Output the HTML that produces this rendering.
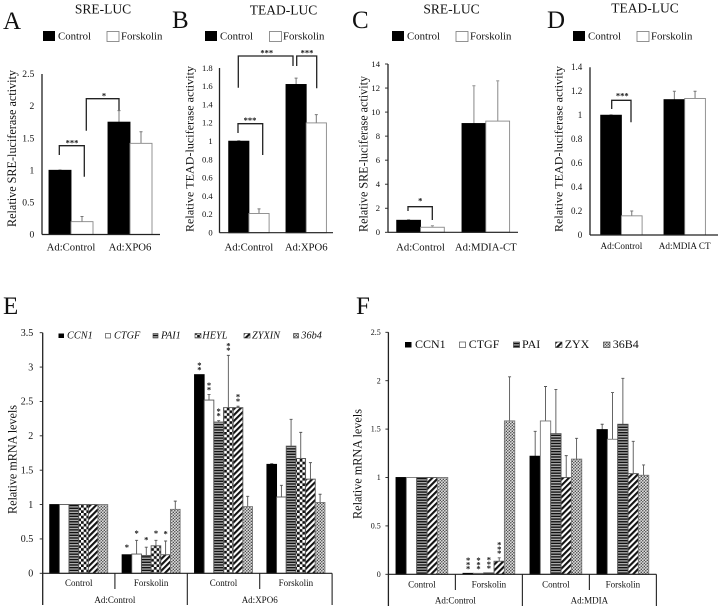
<!DOCTYPE html>
<html lang="en">
<head>
<meta charset="utf-8">
<title>Luciferase and mRNA bar charts</title>
<style>
html,body{margin:0;padding:0;background:#fff;width:718px;height:609px;overflow:hidden}
svg{display:block;filter:blur(0.35px)}
text{font-family:"Liberation Serif",serif;fill:#111}
</style>
</head>
<body>
<svg id="fig" xmlns="http://www.w3.org/2000/svg" width="718" height="609" viewBox="0 0 718 609">
<defs>
<pattern id="p-stripe" width="4" height="2.7" patternUnits="userSpaceOnUse"><rect width="4" height="2.7" fill="#aaa"/><rect width="4" height="1.35" fill="#111"/></pattern>
<pattern id="p-check" width="5.4" height="5.4" patternUnits="userSpaceOnUse"><rect width="5.4" height="5.4" fill="#111"/><rect width="2.7" height="2.7" fill="#fff"/><rect x="2.7" y="2.7" width="2.7" height="2.7" fill="#fff"/></pattern>
<pattern id="p-diag" width="4.2" height="4.2" patternUnits="userSpaceOnUse" patternTransform="rotate(45)"><rect width="4.2" height="4.2" fill="#fff"/><rect width="2.1" height="4.2" fill="#111"/></pattern>
<pattern id="p-dots" width="3" height="3" patternUnits="userSpaceOnUse"><rect width="3" height="3" fill="#ddd"/><circle cx="0.8" cy="0.8" r="0.75" fill="#444"/><circle cx="2.3" cy="2.3" r="0.75" fill="#444"/></pattern>
</defs>

<g font-size="25">
<text x="3" y="29">A</text>
<text x="172" y="28">B</text>
<text x="352" y="28">C</text>
<text x="547" y="28">D</text>
<text x="3" y="314">E</text>
<text x="356" y="314">F</text>
</g>

<g font-size="13.5" text-anchor="middle">
<text x="103" y="13.5">SRE-LUC</text>
<text x="283.5" y="14.5">TEAD-LUC</text>
<text x="451.5" y="13.5">SRE-LUC</text>
<text x="645" y="12.5">TEAD-LUC</text>
</g>

<g text-anchor="middle">
<text font-size="12.2" transform="translate(16,148.5) rotate(-90)" textLength="157">Relative SRE-luciferase activity</text>
<text font-size="12" transform="translate(193.3,149) rotate(-90)" textLength="166">Relative TEAD-luciferase  activity</text>
<text font-size="12.1" transform="translate(367.3,154) rotate(-90)" textLength="156">Relative SRE-luciferase activity</text>
<text font-size="12" transform="translate(562.7,149) rotate(-90)" textLength="166">Relative TEAD-luciferase  activity</text>
<text font-size="12.3" transform="translate(16.5,459.5) rotate(-90)" textLength="109">Relative mRNA levels</text>
<text font-size="12.3" transform="translate(361.3,464) rotate(-90)" textLength="110">Relative mRNA levels</text>
</g>

<g font-size="10.8">
<rect x="43" y="31" width="12" height="10" fill="#000"/>
<text x="58" y="39.5">Control</text>
<rect x="107" y="31.5" width="12" height="10" fill="#fff" stroke="#777" stroke-width="0.8"/>
<text x="121" y="39.5">Forskolin</text>
</g>
<g font-size="10.8">
<rect x="205" y="31" width="12" height="10" fill="#000"/>
<text x="220" y="39.5">Control</text>
<rect x="269.5" y="31.5" width="12" height="10" fill="#fff" stroke="#777" stroke-width="0.8"/>
<text x="283" y="39.5">Forskolin</text>
</g>
<g font-size="10.8">
<rect x="392" y="31" width="12" height="10" fill="#000"/>
<text x="407" y="39.5">Control</text>
<rect x="456" y="31.5" width="12" height="10" fill="#fff" stroke="#777" stroke-width="0.8"/>
<text x="470" y="39.5">Forskolin</text>
</g>
<g font-size="10.8">
<rect x="573" y="31" width="12" height="10" fill="#000"/>
<text x="588" y="39.5">Control</text>
<rect x="637" y="31.5" width="12" height="10" fill="#fff" stroke="#777" stroke-width="0.8"/>
<text x="651" y="39.5">Forskolin</text>
</g>

<g font-size="10.3" font-style="italic">
<rect x="58.5" y="333.5" width="5.5" height="4.5" fill="#000"/>
<text x="67" y="338.5">CCN1</text>
<rect x="105.5" y="333.5" width="5" height="4.5" fill="#fff" stroke="#333" stroke-width="0.6"/>
<text x="114" y="338.5">CTGF</text>
<rect x="153" y="333.5" width="5" height="4.5" fill="url(#p-stripe)" stroke="#333" stroke-width="0.6"/>
<text x="161" y="338.5">PAI1</text>
<rect x="195" y="333.5" width="6" height="4.5" fill="url(#p-check)" stroke="#333" stroke-width="0.6"/>
<text x="202.3" y="338.5">HEYL</text>
<rect x="244" y="333.5" width="6" height="4.5" fill="url(#p-diag)" stroke="#333" stroke-width="0.6"/>
<text x="252" y="338.5">ZYXIN</text>
<rect x="293.5" y="333.5" width="5" height="4.5" fill="url(#p-dots)" stroke="#333" stroke-width="0.6"/>
<text x="301.3" y="338.5">36b4</text>
</g>
<g font-size="12">
<rect x="405" y="342" width="6.5" height="5.5" fill="#000"/>
<text x="415" y="348">CCN1</text>
<rect x="459.5" y="342" width="6" height="5.5" fill="#fff" stroke="#333" stroke-width="0.6"/>
<text x="468.7" y="348">CTGF</text>
<rect x="513.5" y="342" width="6" height="5.5" fill="url(#p-stripe)" stroke="#333" stroke-width="0.6"/>
<text x="522" y="348">PAI</text>
<rect x="555.5" y="342" width="6.5" height="5.5" fill="url(#p-diag)" stroke="#333" stroke-width="0.6"/>
<text x="564.7" y="348">ZYX</text>
<rect x="603.5" y="342" width="6.5" height="5.5" fill="url(#p-dots)" stroke="#333" stroke-width="0.6"/>
<text x="612.7" y="348">36B4</text>
</g>

<g fill="none" stroke="#222" stroke-width="1.3">
<path d="M59.3 155V145.7H84.3V176.7"/>
<path d="M86.3 130.7V98.7H119V111"/>
<path d="M238.3 87.7V56H293V66"/>
<path d="M296.7 66V56H316.7V88.3"/>
<path d="M238 133V123.7H262.7V155"/>
<path d="M408 211V206.7H432.3V220"/>
<path d="M611.7 109V100.3H631V122.3"/>
</g>
<g font-size="8.5" text-anchor="middle" style="font-weight:bold">
<text x="72" y="145.5">***</text>
<text x="104" y="98.5">*</text>
<text x="266.7" y="55.5">***</text>
<text x="307" y="55.5">***</text>
<text x="250" y="123">***</text>
<text x="420.3" y="203.5">*</text>
<text x="622.3" y="98.5">***</text>
</g>

<g id="charts"></g>
</svg>

<script>
// Panel A
const aCategories = ['Ad:Control', 'Ad:XPO6'];
const aTicks = [0, 0.5, 1, 1.5, 2, 2.5];
const aControl = [1, 1.75];
const aControlErr = [0.004, 0.18];
const aForskolin = [0.2, 1.42];
const aForskolinErr = [0.08, 0.18];
// Panel B
const bCategories = ['Ad:Control', 'Ad:XPO6'];
const bTicks = [0, 0.2, 0.4, 0.6, 0.8, 1, 1.2, 1.4, 1.6, 1.8];
const bControl = [1, 1.62];
const bControlErr = [0.005, 0.07];
const bForskolin = [0.21, 1.2];
const bForskolinErr = [0.05, 0.09];
// Panel C
const cCategories = ['Ad:Control', 'Ad:MDIA-CT'];
const cTicks = [0, 2, 4, 6, 8, 10, 12, 14];
const cControl = [1, 9.05];
const cControlErr = [0.05, 3.15];
const cForskolin = [0.42, 9.25];
const cForskolinErr = [0.13, 3.35];
// Panel D
const dCategories = ['Ad:Control', 'Ad:MDIA CT'];
const dTicks = [0, 0.2, 0.4, 0.6, 0.8, 1, 1.2, 1.4];
const dControl = [1, 1.13];
const dControlErr = [0.003, 0.07];
const dForskolin = [0.16, 1.14];
const dForskolinErr = [0.04, 0.06];
// Panel E
const eTicks = [0, 0.5, 1, 1.5, 2, 2.5, 3, 3.5];
const eConditions = ['Control', 'Forskolin', 'Control', 'Forskolin'];
const eVectors = ['Ad:Control', 'Ad:XPO6'];
const eCCN1 = [1, 0.27, 2.89, 1.585];
const eCCN1Err = [0, 0, 0, 0.01];
const eCCN1Sig = ['', '*', '**', ''];
const eCTGF = [1, 0.28, 2.52, 1.11];
const eCTGFErr = [0, 0.2, 0.08, 0.17];
const eCTGFSig = ['', '*', '**', ''];
const ePAI1 = [1, 0.26, 2.2, 1.85];
const ePAI1Err = [0, 0.12, 0.02, 0.39];
const ePAI1Sig = ['', '*', '**', ''];
const eHEYL = [1, 0.4, 2.41, 1.67];
const eHEYLErr = [0, 0.08, 0.76, 0.38];
const eHEYLSig = ['', '*', '**', ''];
const eZYXIN = [1, 0.27, 2.41, 1.37];
const eZYXINErr = [0, 0.2, 0.02, 0.24];
const eZYXINSig = ['', '*', '**', ''];
const e36b4 = [1, 0.93, 0.97, 1.03];
const e36b4Err = [0, 0.12, 0.15, 0.12];
const e36b4Sig = ['', '', '', ''];
// Panel F
const fTicks = [0, 0.5, 1, 1.5, 2, 2.5];
const fConditions = ['Control', 'Forskolin', 'Control', 'Forskolin'];
const fVectors = ['Ad:Control', 'Ad:MDIA'];
const fCCN1 = [1, 0.01, 1.22, 1.495];
const fCCN1Err = [0, 0, 0.257, 0.055];
const fCCN1Sig = ['', '***', '', ''];
const fCTGF = [1, 0.01, 1.584, 1.395];
const fCTGFErr = [0, 0, 0.356, 0.482];
const fCTGFSig = ['', '***', '', ''];
const fPAI = [1, 0.015, 1.453, 1.55];
const fPAIErr = [0, 0, 0.457, 0.475];
const fPAISig = ['', '***', '', ''];
const fZYX = [1, 0.135, 1, 1.04];
const fZYXErr = [0, 0.035, 0.226, 0.334];
const fZYXSig = ['', '***', '', ''];
const f36B4 = [1, 1.585, 1.19, 1.023];
const f36B4Err = [0, 0.455, 0.215, 0.107];
const f36B4Sig = ['', '', '', ''];

const NS = 'http://www.w3.org/2000/svg';
const root = document.getElementById('charts');

function mk(parent, tag, attrs, text) {
  const el = document.createElementNS(NS, tag);
  for (const k in attrs) el.setAttribute(k, attrs[k]);
  if (text !== undefined) el.textContent = text;
  parent.appendChild(el);
  return el;
}

function drawYAxis(g, yScale, ticks, o) {
  ticks.forEach(function (t) {
    const y = yScale(t);
    const label = mk(g, 'text', { x: o.labelRight, y: y + o.tickFont * 0.32, 'font-size': o.tickFont, 'text-anchor': 'end' }, String(t));
    
    
    if (o.tickMarks) {
      const mark = mk(g, 'line', { x1: o.x0 - 3, x2: o.x0, y1: y, y2: y, stroke: '#222', 'stroke-width': 0.9 });
      
      
    }
  });
  const axis = mk(g, 'line', { x1: o.x0, x2: o.x0, y1: yScale(ticks[ticks.length - 1]), y2: o.axisBottom, stroke: '#222', 'stroke-width': 1.3 });
  
  
}

function drawBar(g, x, w, value, err, fill, stroke, errColor, errWidth, yScale) {
  const top = yScale(value + err);
  if (err > 0) {
    const whisker = mk(g, 'path', { d: 'M' + (x + w / 2) + ' ' + yScale(value) + 'V' + top + 'M' + (x + w / 2 - 1.5) + ' ' + top + 'h3', stroke: errColor, 'stroke-width': errWidth, fill: 'none' });
    
    
  }
  const yTop = yScale(value);
  const bar = mk(g, 'rect', { x: x, y: yTop, width: w, height: yScale(0) - yTop, fill: fill, stroke: stroke, 'stroke-width': 0.9 });
  
  
}

function drawSimple(name, o, categories, ticks, control, controlErr, forskolin, forskolinErr) {
  const g = mk(root, 'g', {});
  
  
  const yScale = function (v) { return o.y0 - (v / ticks[ticks.length - 1]) * (o.y0 - o.yTop); };
  const xBand = function (i) { return o.start + i * o.step; };
  categories.forEach(function (c, i) {
    drawBar(g, xBand(i), o.barW, control[i], controlErr[i], '#000', '#000', o.errColor, o.errWidth, yScale);
    drawBar(g, xBand(i) + o.barW, o.barW, forskolin[i], forskolinErr[i], '#fff', '#888', o.errColor, o.errWidth, yScale);
    const label = mk(g, 'text', { x: xBand(i) + o.barW, y: o.labelY, 'font-size': o.catFont, 'text-anchor': 'middle' }, c);
    
    
  });
  drawYAxis(g, yScale, ticks, { x0: o.x0, labelRight: o.labelRight, tickFont: o.tickFont, tickMarks: o.tickMarks, axisBottom: o.y0 });
  const xAxis = mk(g, 'line', { x1: o.x0, x2: o.x1, y1: o.y0, y2: o.y0, stroke: '#222', 'stroke-width': 1.2 });
  
  
}

function drawMulti(name, o, ticks, conditions, vectors, series) {
  const g = mk(root, 'g', {});
  
  
  const yScale = function (v) { return o.y0 - (v / ticks[ticks.length - 1]) * (o.y0 - o.yTop); };
  const groupW = series.length * o.barW;
  const gap = o.step - groupW;
  const boundary = function (i) { return o.start + i * o.step - gap / 2; };
  series.forEach(function (s, si) {
    s.values.forEach(function (v, gi) {
      const x = o.start + gi * o.step + si * o.barW;
      drawBar(g, x, o.barW, v, s.errs[gi], s.fill, s.stroke, '#555', 0.9, yScale);
      const stars = s.sig[gi];
      for (let k = 0; k < stars.length; k++) {
        const cy = yScale(v + s.errs[gi]) - o.sigGap - (k - (stars.length - 1) / 2) * 4.4;
        const star = mk(g, 'text', { x: x + o.barW / 2, y: cy + 4, 'font-size': 8.5, 'text-anchor': 'middle', 'font-weight': 'bold' }, '*');
        
        
      }
    });
  });
  conditions.forEach(function (c, i) {
    const label = mk(g, 'text', { x: (boundary(i) + boundary(i + 1)) / 2, y: o.condY, 'font-size': 9, 'text-anchor': 'middle' }, c);
    
    
    const tall = (i % 2 === 0);
    if (i > 0) {
      const div = mk(g, 'line', { x1: boundary(i), x2: boundary(i), y1: o.y0, y2: tall ? o.axisBottom : o.midBottom, stroke: '#222', 'stroke-width': 1.1 });
      
      
    }
  });
  const end = mk(g, 'line', { x1: boundary(conditions.length), x2: boundary(conditions.length), y1: o.y0, y2: o.axisBottom, stroke: '#222', 'stroke-width': 1.1 });
  
  
  vectors.forEach(function (c, i) {
    const label = mk(g, 'text', { x: (boundary(i * 2) + boundary(i * 2 + 2)) / 2, y: o.vecY, 'font-size': 9, 'text-anchor': 'middle' }, c);
    
    
  });
  drawYAxis(g, yScale, ticks, { x0: o.x0, labelRight: o.labelRight, tickFont: o.tickFont, tickMarks: true, axisBottom: o.axisBottom });
  const xAxis = mk(g, 'line', { x1: o.x0, x2: boundary(conditions.length), y1: o.y0, y2: o.y0, stroke: '#222', 'stroke-width': 1.2 });
  
  
}

drawSimple('chart-a', { x0: 42, x1: 160, y0: 234.5, yTop: 74, start: 49, step: 59, barW: 22, labelY: 250.5, catFont: 10.7, labelRight: 34.3, tickFont: 9.6, tickMarks: false, errColor: '#777', errWidth: 1 }, aCategories, aTicks, aControl, aControlErr, aForskolin, aForskolinErr);
drawSimple('chart-b', { x0: 219.5, x1: 333, y0: 232.7, yTop: 68, start: 228.7, step: 57.3, barW: 20.2, labelY: 250.5, catFont: 10.7, labelRight: 212.7, tickFont: 8.6, tickMarks: false, errColor: '#777', errWidth: 1 }, bCategories, bTicks, bControl, bControlErr, bForskolin, bForskolinErr);
drawSimple('chart-c', { x0: 388, x1: 518, y0: 232.3, yTop: 64, start: 396.7, step: 65.3, barW: 23.8, labelY: 250.5, catFont: 10.7, labelRight: 380, tickFont: 8.6, tickMarks: true, errColor: '#aaa', errWidth: 1.4 }, cCategories, cTicks, cControl, cControlErr, cForskolin, cForskolinErr);
drawSimple('chart-d', { x0: 590, x1: 718, y0: 235, yTop: 67.3, start: 600.7, step: 63.3, barW: 20.7, labelY: 249, catFont: 9.2, labelRight: 582.3, tickFont: 9, tickMarks: false, errColor: '#777', errWidth: 1 }, dCategories, dTicks, dControl, dControlErr, dForskolin, dForskolinErr);

drawMulti('chart-e', { x0: 42.7, y0: 573.3, yTop: 332.7, start: 49.7, step: 72.4, barW: 9.67, labelRight: 33.3, tickFont: 10, axisBottom: 605, midBottom: 589, condY: 586, vecY: 603, sigGap: 8.5 }, eTicks, eConditions, eVectors, [
  { values: eCCN1, errs: eCCN1Err, sig: eCCN1Sig, fill: '#000', stroke: '#000' },
  { values: eCTGF, errs: eCTGFErr, sig: eCTGFSig, fill: '#fff', stroke: '#555' },
  { values: ePAI1, errs: ePAI1Err, sig: ePAI1Sig, fill: 'url(#p-stripe)', stroke: '#555' },
  { values: eHEYL, errs: eHEYLErr, sig: eHEYLSig, fill: 'url(#p-check)', stroke: '#555' },
  { values: eZYXIN, errs: eZYXINErr, sig: eZYXINSig, fill: 'url(#p-diag)', stroke: '#555' },
  { values: e36b4, errs: e36b4Err, sig: e36b4Sig, fill: 'url(#p-dots)', stroke: '#777' }
]);

drawMulti('chart-f', { x0: 388.4, y0: 574.3, yTop: 332.3, start: 396, step: 67, barW: 10.35, labelRight: 380.7, tickFont: 8, axisBottom: 606, midBottom: 590, condY: 587.5, vecY: 603.7, sigGap: 10 }, fTicks, fConditions, fVectors, [
  { values: fCCN1, errs: fCCN1Err, sig: fCCN1Sig, fill: '#000', stroke: '#000' },
  { values: fCTGF, errs: fCTGFErr, sig: fCTGFSig, fill: '#fff', stroke: '#777' },
  { values: fPAI, errs: fPAIErr, sig: fPAISig, fill: 'url(#p-stripe)', stroke: '#555' },
  { values: fZYX, errs: fZYXErr, sig: fZYXSig, fill: 'url(#p-diag)', stroke: '#555' },
  { values: f36B4, errs: f36B4Err, sig: f36B4Sig, fill: 'url(#p-dots)', stroke: '#777' }
]);
</script>
</body>
</html>
